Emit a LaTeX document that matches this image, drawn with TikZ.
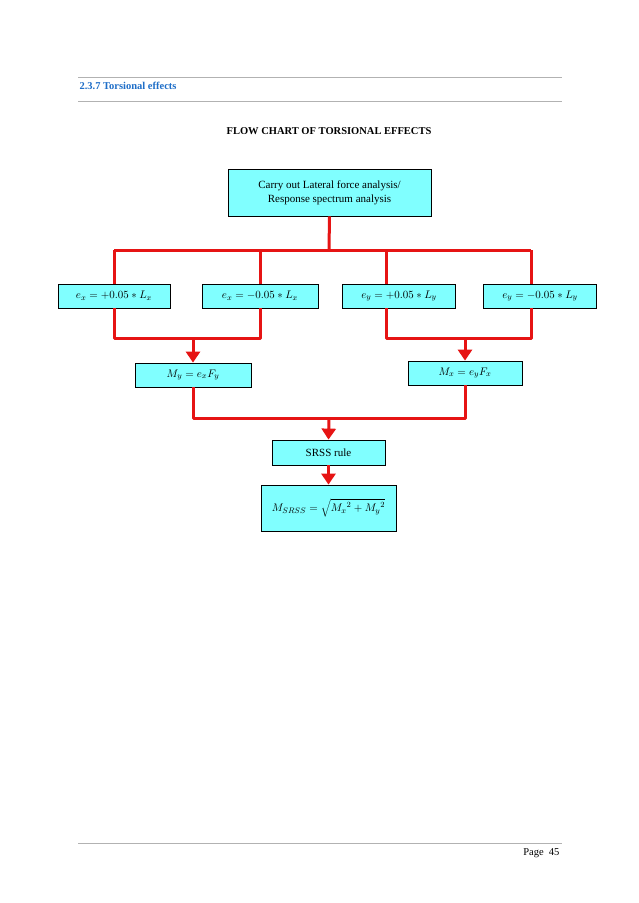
\documentclass[tikz,border=0pt]{standalone}
\usepackage{fontspec}
\setmainfont{Liberation Serif}
\usetikzlibrary{arrows.meta}
\definecolor{boxc}{RGB}{128,255,255}
\definecolor{redc}{RGB}{230,20,20}
\begin{document}
\begin{tikzpicture}[x=1pt,y=-1pt,
 box/.style={draw=black,fill=boxc,line width=0.8pt,minimum width=#1,inner sep=0pt,font=\fontsize{11}{14}\selectfont,align=center},
 red/.style={draw=redc,line width=3pt,line join=round},
 arr/.style={red,-{Triangle[length=11pt,width=14pt]}}]
\useasboundingbox (0,0) rectangle (638,903);
\fill[white] (0,0) rectangle (638,903);
\draw[gray!60,line width=0.6pt] (78,77) -- (562,77) (78,101) -- (562,101) (78,843) -- (562,843);
\node[anchor=west,text={rgb,255:red,30;green,110;blue,200},font=\bfseries\fontsize{10.5}{12}\selectfont] (hd) at (76,86) {2.3.7 Torsional effects};
\node[font=\bfseries\fontsize{10.5}{12}\selectfont] (tt) at (329,131) {FLOW CHART OF TORSIONAL EFFECTS};
\node[anchor=east,font=\fontsize{10.5}{12}\selectfont] (pg) at (563,853) {Page\ \ 45};
\node[box=203pt,minimum height=47pt] (top) at (329.5,192.5) {Carry out Lateral force analysis/\\Response spectrum analysis};
\node[box=112pt,minimum height=24pt] (a) at (114,296) {$e_x = +0.05 * L_x$};
\node[box=116pt,minimum height=24pt] (b) at (260,296) {$e_x = -0.05 * L_x$};
\node[box=113pt,minimum height=24pt] (c) at (399,296) {$e_y = +0.05 * L_y$};
\node[box=113pt,minimum height=24pt] (d) at (540,296) {$e_y = -0.05 * L_y$};
\node[box=116pt,minimum height=24pt] (my) at (193,375) {$M_y = e_xF_y$};
\node[box=114pt,minimum height=24pt] (mx) at (465,373) {$M_x = e_yF_x$};
\node[box=113pt,minimum height=25pt] (sr) at (328.5,452.5) {SRSS rule};
\node[box=135pt,minimum height=46pt] (ms) at (328.5,508) {$M_{SRSS} = \sqrt{{M_x}^2 + {M_y}^2}$};
\coordinate (bus) at (329,250);
\draw[red] (top.south) -- (bus);
\draw[red] (114,250) -- (531,250);
\draw[red] (114,250) -- (114,284);
\draw[red] (260,250) -- (260,284);
\draw[red] (386,250) -- (386,284);
\draw[red] (531,250) -- (531,284);
\draw[red] (114,308) -- (114,338) -- (260,338) -- (260,308);
\draw[red] (386,308) -- (386,338) -- (531,338) -- (531,308);
\draw[arr] (193,338) -- (my.north);
\draw[arr] (465,338) -- (mx.north);
\draw[red] (my.south) -- (193,418) -- (465,418) -- (mx.south);
\draw[arr] (329,418) -- (sr.north);
\draw[arr] (sr.south) -- (ms.north);
\end{tikzpicture}
\end{document}
